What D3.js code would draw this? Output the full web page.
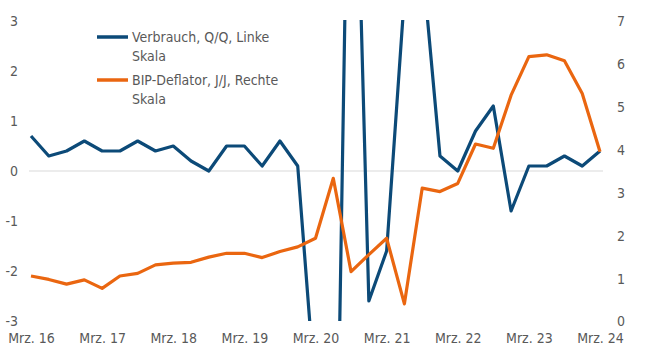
<!DOCTYPE html>
<html><head><meta charset="utf-8">
<script src="https://cdn.jsdelivr.net/npm/d3@7"></script>
<style>
html,body{margin:0;padding:0;background:#fff;}
svg{display:block;}
text{font-family:"Liberation Sans Narrow","Arial Narrow","DejaVu Sans Condensed",sans-serif;fill:#595959;}
</style></head>
<body>
<svg id="chart" width="650" height="355"></svg>
<script>
// Quarterly categories, Q1 2016 .. Q1 2024
const years = ["16","17","18","19","20","21","22","23","24"];
const quarterNames = ["Mrz.","Jun.","Sep.","Dez."];
const categories = [];
years.forEach((y,i)=>{ quarterNames.forEach((q,j)=>{ if(i<8 || j===0) categories.push(q+" "+y); }); });
const tickLabels = ["Mrz. 16","Mrz. 17","Mrz. 18","Mrz. 19","Mrz. 20","Mrz. 21","Mrz. 22","Mrz. 23","Mrz. 24"];

// Private consumption, Q/Q in % (left axis)
const verbrauch = [0.7,0.3,0.4,0.6, 0.4,0.4,0.6,0.4, 0.5,0.2,0.0,0.5, 0.5,0.1,0.6,0.1,
                   -4.5,-10.8,10.5,-2.6, -1.6,3.5,4.2,0.3, 0.0,0.8,1.3,-0.8, 0.1,0.1,0.3,0.1, 0.4];
// GDP deflator, Y/Y in % (right axis)
const deflator = [1.05,0.97,0.86,0.96, 0.76,1.05,1.11,1.31, 1.35,1.37,1.49,1.58, 1.58,1.48,1.62,1.73,
                  1.93,3.33,1.15,1.55, 1.93,0.40,3.10,3.02, 3.21,4.13,4.03,5.27, 6.17,6.21,6.07,5.31, 3.95];
const leftTicks = [-3,-2,-1,0,1,2,3];
const rightTicks = [0,1,2,3,4,5,6,7];
const seriesNames = ["Verbrauch, Q/Q, Linke","BIP-Deflator, J/J, Rechte"];

const svg = d3.select("#chart");
const x = d3.scalePoint().domain(categories).range([31,600]);
const yL = d3.scaleLinear().domain([-3,3]).range([321,21]);
const yR = d3.scaleLinear().domain([0,7]).range([321,21]);

const blue = "#0c4a78", orange = "#ea6610";
const fs = "14px";

// zero gridline
svg.append("line").attr("x1",29).attr("x2",603).attr("y1",yL(0)).attr("y2",yL(0))
  .attr("stroke","#d9d9d9").attr("stroke-width",1.2);

// left axis
const gL = svg.append("g").attr("transform","translate(18,0)")
  .call(d3.axisLeft(yL).tickValues(leftTicks).tickSize(0).tickPadding(0).tickFormat(d=>String(d)));
gL.select(".domain").remove();
gL.selectAll("text").style("font-size",fs).attr("fill","#595959").attr("dy","0.35em");

// right axis
const gR = svg.append("g").attr("transform","translate(617,0)")
  .call(d3.axisRight(yR).tickValues(rightTicks).tickSize(0).tickPadding(0).tickFormat(d=>String(d)));
gR.select(".domain").remove();
gR.selectAll("text").style("font-size",fs).attr("fill","#595959").attr("dy","0.35em");

// bottom axis
const gX = svg.append("g").attr("transform","translate(0,338)")
  .call(d3.axisBottom(x).tickValues(tickLabels).tickSize(0).tickPadding(0));
gX.select(".domain").remove();
gX.selectAll("text").style("font-size",fs).attr("fill","#595959").attr("dy","0.35em").attr("y",0);

// clip
svg.append("clipPath").attr("id","plotclip").append("rect")
  .attr("x",0).attr("y",20).attr("width",650).attr("height",301);

const lineL = d3.line().x((d,i)=>x(categories[i])).y(d=>yL(d));
const lineR = d3.line().x((d,i)=>x(categories[i])).y(d=>yR(d));

const plot = svg.append("g").attr("clip-path","url(#plotclip)");
plot.append("path").datum(verbrauch).attr("d",lineL).attr("fill","none")
  .attr("stroke",blue).attr("stroke-width",3.2).attr("stroke-linejoin","round");
plot.append("path").datum(deflator).attr("d",lineR).attr("fill","none")
  .attr("stroke",orange).attr("stroke-width",3.2).attr("stroke-linejoin","round");

// legend
const legend = [
  {name: seriesNames[0], color: blue, y: 37},
  {name: seriesNames[1], color: orange, y: 80}
];
legend.forEach(l=>{
  svg.append("line").attr("x1",97).attr("x2",128).attr("y1",l.y).attr("y2",l.y)
    .attr("stroke",l.color).attr("stroke-width",3.5);
  svg.append("text").attr("x",132).attr("y",l.y).attr("dy","0.35em").style("font-size",fs).text(l.name);
  svg.append("text").attr("x",132).attr("y",l.y+19).attr("dy","0.35em").style("font-size",fs).text("Skala");
});
</script>
</body></html>
